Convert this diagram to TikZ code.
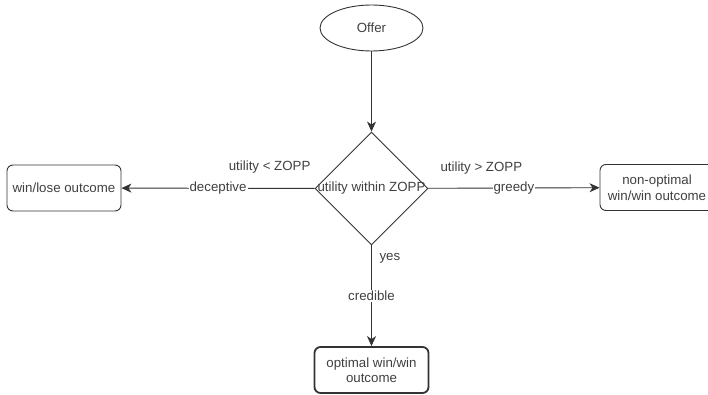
\documentclass[tikz,border=0pt]{standalone}
\usepackage{fontspec}
\setmainfont{Liberation Sans}
\usetikzlibrary{shapes.geometric,arrows.meta}
\definecolor{ink}{HTML}{333333}
\definecolor{txt}{HTML}{404040}
\begin{document}
\begin{tikzpicture}[x=1pt,y=-1pt,
  font=\fontsize{13.3}{15.5}\selectfont, text=txt,
  box/.style={draw=ink, line width=0.9pt, rounded corners=6pt,
    minimum width=114pt, minimum height=46pt, align=center, inner sep=0pt},
  flow/.style={draw=ink, line width=0.9pt,
    -{Stealth[length=10pt,width=9pt,inset=3pt]}},
  lbl/.style={fill=white, inner sep=1pt}]
\useasboundingbox (0,0) rectangle (708,395);
\clip (0,0) rectangle (708,395);

% start and decision
\node[ellipse, draw=ink, line width=0.9pt, minimum width=103pt,
  minimum height=46pt, inner sep=0pt] (offer) at (371.5,28) {Offer};
\node[diamond, draw=ink, line width=0.9pt, minimum width=113pt,
  minimum height=113pt, inner sep=0pt] (dec) at (371.5,188.5) {};
\node (dectext) at (dec.center) {utility within ZOPP};

% outcomes
\node[box] (lose) at (64,188) {win/lose outcome};
\node[box] (nonopt) at (657,187.5) {non-optimal\\win/win outcome};
\node[box, line width=1.8pt] (opt) at (371.5,370) {optimal win/win\\outcome};

% connectors
\draw[flow] (offer) -- (dec);
\draw[flow] (dec) -- node[lbl] (decept) {deceptive} (lose);
\draw[flow] (dec) -- node[lbl] (greedy) {greedy} (nonopt);
\draw[flow] (dec) -- node[lbl] (cred) {credible} (opt);

% conditions
\node[anchor=east] (lesslbl) at (314,167) {utility < ZOPP};
\node[anchor=west] (morelbl) at (437,168) {utility > ZOPP};
\node[anchor=west] (yeslbl) at (376,258) {yes};
\end{tikzpicture}
\end{document}
